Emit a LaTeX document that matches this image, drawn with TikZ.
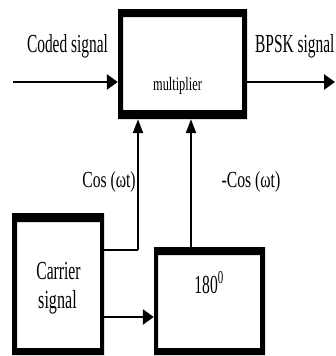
\documentclass[tikz,border=0pt]{standalone}
\usepackage{fontspec}
\setmainfont{Liberation Serif}
\usetikzlibrary{arrows.meta,calc}
\newcommand{\cnd}[3]{\scalebox{#2}[1]{\fontsize{#1}{#1}\selectfont #3}}
\begin{document}
\begin{tikzpicture}[x=1pt,y=-1pt,
  lbl/.style={inner sep=0pt},
  blk/.style={inner sep=0pt, draw=none},
  wire/.style={line width=2.6pt},
  vwire/.style={line width=2.2pt},
  arr/.style={wire,-{Triangle[length=11pt,width=15pt]}},
  uparr/.style={vwire,-{Triangle[length=14pt,width=10pt]}}]
\useasboundingbox (0,0) rectangle (335,356);
\fill[white] (0,0) rectangle (335,356);
% blocks
\node[blk, minimum width=129pt, minimum height=110pt] (mult) at (182.5,64) {};
\fill[even odd rule] (118,9) rectangle (247,119) (123,17) rectangle (242,110);
\node[blk, minimum width=92pt, minimum height=142pt] (carrier) at (58,284) {};
\fill[even odd rule] (12,213) rectangle (104,355) (17,222) rectangle (100,348);
\node[blk, minimum width=111pt, minimum height=108pt] (shift) at (209.5,301) {};
\fill[even odd rule] (154,247) rectangle (265,355) (158,255) rectangle (260,348);
% texts
\node[lbl, anchor=base] (multtxt) at (177.5,90) {\cnd{19}{0.65}{multiplier}};
\node[lbl, anchor=base] (carrtxt1) at (58.5,279) {\cnd{26}{0.6}{Carrier}};
\node[lbl, anchor=base] (carrtxt2) at (57.5,308) {\cnd{26}{0.62}{signal}};
\node[lbl, anchor=base] (shifttxt) at (209,293) {\cnd{26}{0.6}{180\textsuperscript{0}}};
\node[lbl, anchor=base] (coded) at (67.5,52) {\cnd{26}{0.593}{Coded signal}};
\node[lbl, anchor=base west] (bpsk) at (255,52) {\cnd{26}{0.593}{BPSK signal}};
\node[lbl, anchor=base] (cos) at (109,187) {\cnd{23}{0.68}{Cos (ωt)}};
\node[lbl, anchor=base] (mcos) at (251,187) {\cnd{23}{0.68}{-Cos (ωt)}};
% coordinates
\coordinate (inL) at (13,82);
\coordinate (outR) at (335,82);
\coordinate (jL) at (138,250);
\coordinate (jR) at (191,247);
% connectors
\draw[arr] (inL) -- (inL -| mult.west);
\draw[arr] (mult.east |- outR) -- (outR);
\draw[vwire] (carrier.east |- jL) -- (jL);
\draw[uparr] (jL) -- (jL |- mult.south);
\draw[uparr] (jR) -- (jR |- mult.south);
\draw[arr] (carrier.east |- 0,317) -- (shift.west |- 0,317);
\end{tikzpicture}
\end{document}
